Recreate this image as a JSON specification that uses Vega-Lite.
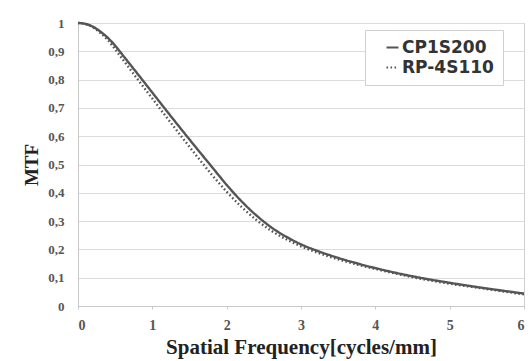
{
  "$schema": "https://vega.github.io/schema/vega-lite/v6.json",
  "width": 446,
  "height": 283,
  "autosize": {"type": "none"},
  "padding": {"left": 78, "top": 23, "right": 8, "bottom": 55},
  "background": "white",
  "config": {
    "view": {"stroke": "#d0d0d0", "strokeWidth": 1}
  },
  "datasets": {
    "cp": [
      {"f": 0, "mtf": 1}, {"f": 0.1, "mtf": 0.997}, {"f": 0.2, "mtf": 0.987}, {"f": 0.3, "mtf": 0.97},
      {"f": 0.4, "mtf": 0.948}, {"f": 0.5, "mtf": 0.92}, {"f": 0.6, "mtf": 0.887}, {"f": 0.8, "mtf": 0.821},
      {"f": 1.0, "mtf": 0.754}, {"f": 1.2, "mtf": 0.687}, {"f": 1.4, "mtf": 0.621}, {"f": 1.6, "mtf": 0.556},
      {"f": 1.8, "mtf": 0.492}, {"f": 2.0, "mtf": 0.428}, {"f": 2.2, "mtf": 0.37}, {"f": 2.4, "mtf": 0.32},
      {"f": 2.6, "mtf": 0.278}, {"f": 2.8, "mtf": 0.245}, {"f": 3.0, "mtf": 0.218}, {"f": 3.25, "mtf": 0.192},
      {"f": 3.5, "mtf": 0.17}, {"f": 3.75, "mtf": 0.151}, {"f": 4.0, "mtf": 0.134}, {"f": 4.5, "mtf": 0.105},
      {"f": 5.0, "mtf": 0.082}, {"f": 5.5, "mtf": 0.062}, {"f": 6.0, "mtf": 0.044}
    ],
    "rp": [
      {"f": 0, "mtf": 1}, {"f": 0.1, "mtf": 0.996}, {"f": 0.2, "mtf": 0.985}, {"f": 0.3, "mtf": 0.965},
      {"f": 0.4, "mtf": 0.94}, {"f": 0.52, "mtf": 0.9}, {"f": 0.6, "mtf": 0.872}, {"f": 0.8, "mtf": 0.802},
      {"f": 1.0, "mtf": 0.733}, {"f": 1.2, "mtf": 0.664}, {"f": 1.4, "mtf": 0.596}, {"f": 1.6, "mtf": 0.529},
      {"f": 1.8, "mtf": 0.464}, {"f": 2.0, "mtf": 0.404}, {"f": 2.2, "mtf": 0.35}, {"f": 2.4, "mtf": 0.304},
      {"f": 2.6, "mtf": 0.266}, {"f": 2.8, "mtf": 0.236}, {"f": 3.0, "mtf": 0.211}, {"f": 3.25, "mtf": 0.186},
      {"f": 3.5, "mtf": 0.165}, {"f": 3.75, "mtf": 0.147}, {"f": 4.0, "mtf": 0.131}, {"f": 4.5, "mtf": 0.102},
      {"f": 5.0, "mtf": 0.079}, {"f": 5.5, "mtf": 0.06}, {"f": 6.0, "mtf": 0.041}
    ]
  },
  "data": {"name": "cp"},
  "transform": [
    {"calculate": "'CP1S200'", "as": "s"}
  ],
  "layer": [
    {
      "data": {"name": "rp"},
      "transform": [{"calculate": "'RP-4S110'", "as": "s"}],
      "mark": {"type": "line", "interpolate": "monotone", "strokeWidth": 2.4, "strokeDash": [1.6, 2.4], "color": "#555555"},
      "encoding": {
        "x": {"field": "f", "type": "quantitative"},
        "y": {"field": "mtf", "type": "quantitative"},
        "strokeDash": {"field": "s", "type": "nominal"}
      }
    },
    {
      "mark": {"type": "line", "interpolate": "monotone", "strokeWidth": 2.4, "color": "#555555"},
      "encoding": {
        "x": {"field": "f", "type": "quantitative"},
        "y": {"field": "mtf", "type": "quantitative"},
        "strokeDash": {"field": "s", "type": "nominal"}
      }
    }
  ],
  "encoding": {
    "x": {
      "field": "f",
      "type": "quantitative",
      "scale": {"domain": [0, 6], "nice": false},
      "axis": {
        "values": [0, 1, 2, 3, 4, 5, 6],
        "title": "Spatial Frequency[cycles/mm]",
        "titleFont": "Liberation Serif",
        "titleFontSize": 21,
        "titleFontWeight": "bold",
        "titleColor": "#222",
        "titlePadding": 4,
        "labelFont": "Liberation Serif",
        "labelFontSize": 14,
        "labelFontWeight": "bold",
        "labelColor": "#555",
        "labelPadding": 9,
        "tickSize": 3,
        "tickColor": "#c8c8c8",
        "domainColor": "#c8c8c8",
        "grid": false
      }
    },
    "y": {
      "field": "mtf",
      "type": "quantitative",
      "scale": {"domain": [0, 1], "nice": false},
      "axis": {
        "values": [0, 0.1, 0.2, 0.3, 0.4, 0.5, 0.6, 0.7, 0.8, 0.9, 1],
        "labelExpr": "replace(format(datum.value, '.1~f'), '.', ',')",
        "title": "MTF",
        "titleFont": "Liberation Serif",
        "titleFontSize": 19,
        "titleFontWeight": "bold",
        "titleColor": "#222",
        "titlePadding": 6,
        "labelFont": "Liberation Serif",
        "labelFontSize": 13,
        "labelFontWeight": "bold",
        "labelColor": "#555",
        "labelPadding": 14,
        "ticks": false,
        "domainColor": "#c8c8c8",
        "grid": true,
        "gridColor": "#dcdcdc",
        "gridWidth": 1.2
      }
    },
    "strokeDash": {
      "field": "s",
      "type": "nominal",
      "scale": {"domain": ["CP1S200", "RP-4S110"], "range": [[1, 0], [1.6, 2.4]]},
      "legend": {
        "orient": "none",
        "legendX": 287,
        "legendY": 7,
        "title": null,
        "fillColor": "white",
        "strokeColor": "#d0d0d0",
        "padding": 9,
        "symbolType": "stroke",
        "symbolSize": 144,
        "symbolStrokeWidth": 2,
        "symbolStrokeColor": "#555555",
        "symbolOffset": 10,
        "labelOffset": 1,
        "labelFont": "DejaVu Sans",
        "labelFontSize": 17,
        "labelFontWeight": "bold",
        "labelColor": "#333",
        "rowPadding": 2
      }
    }
  }
}
